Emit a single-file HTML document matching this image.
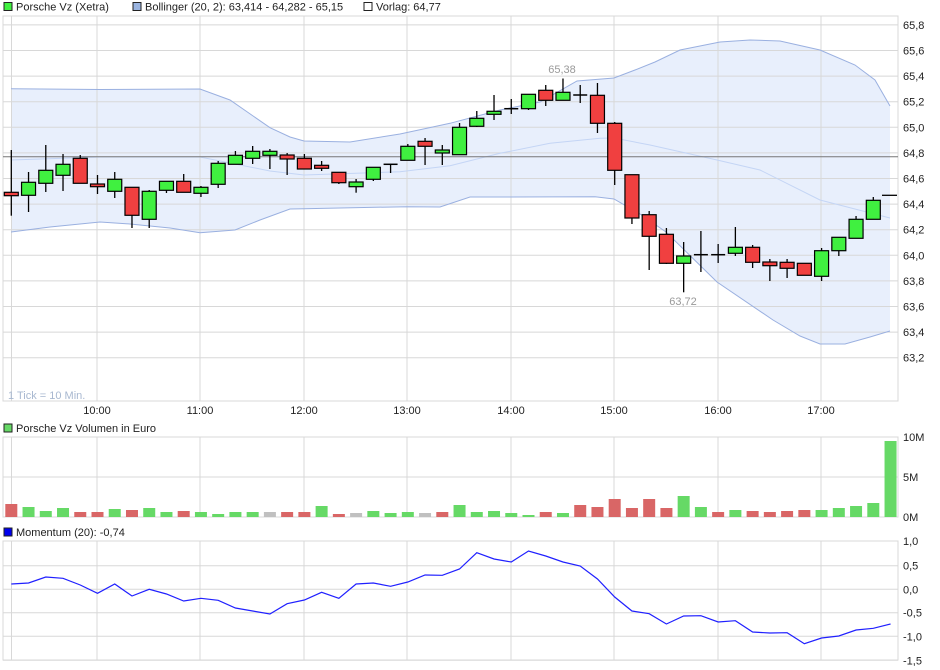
<!DOCTYPE html>
<html><head><meta charset="utf-8"><style>
body{margin:0;background:#fff;width:940px;height:670px;overflow:hidden}
svg{display:block;font-family:"Liberation Sans",sans-serif}
</style></head><body>
<svg id="s" width="940" height="670" xmlns="http://www.w3.org/2000/svg"></svg>
<script>
var s=document.getElementById('s'),h='';
function X(i){return 11.3+17.24*i}
function Y(p){return 127.3+(65-p)*128}
// main panel
h+='<rect x="3" y="16" width="895" height="385" fill="#fff" stroke="#d8d8d8"/>';
// bollinger
var up=[[11,88.7],[100,89.5],[200,89],[230,100],[270,127.7],[290,137],[304,141],[350,142],[400,134],[450,123.3],[500,110],[540,102],[577,81],[614,78],[635,70],[655,62],[680,50],[720,42],[750,40],[780,41],[820,50],[855,65],[875,80],[890,106]];
var md=[[11,160],[100,157],[200,157],[235,164],[270,171],[304,175],[400,171.7],[450,165.7],[500,153.3],[550,143.3],[600,138.3],[614,138],[650,145],[717,160],[760,170],[820,200],[890,218]];
var lo=[[11,232],[50,227],[100,222],[130,224],[170,228],[200,232.7],[235,230],[260,220],[290,209],[304,208.7],[407,206.7],[440,207],[470,197],[510,197],[595,196.7],[614,199],[640,214],[666,232],[717,282],[773,320],[800,336],[820,344],[845,344],[870,337],[890,331]];
function pts(a){return a.map(function(p){return p[0]+','+p[1]}).join(' ')}
h+='<polygon points="'+pts(up)+' '+pts(lo.slice().reverse())+'" fill="#e8effc"/>';
// grid
for(var k=0;k<=13;k++){var p=65.8-0.2*k,y=Y(p);h+='<line x1="3" x2="898" y1="'+y+'" y2="'+y+'" stroke="#d8d8d8"/>';h+='<text x="903" y="'+(y+4)+'" font-size="11" fill="#222">'+p.toFixed(1).replace('.',',')+'</text>';}
var gx=[11.5,97,200,304,407,511,614,718,821],tl=['','10:00','11:00','12:00','13:00','14:00','15:00','16:00','17:00'];
gx.forEach(function(x,i){
 h+='<line x1="'+x+'" x2="'+x+'" y1="16" y2="401" stroke="#d8d8d8"/>';
 h+='<line x1="'+x+'" x2="'+x+'" y1="437" y2="517" stroke="#d8d8d8"/>';
 h+='<line x1="'+x+'" x2="'+x+'" y1="541" y2="660" stroke="#d8d8d8"/>';
 if(tl[i])h+='<text x="'+x+'" y="414" font-size="11" fill="#222" text-anchor="middle">'+tl[i]+'</text>';
});
h+='<polyline points="'+pts(up)+'" fill="none" stroke="#9ab0e0"/>';
h+='<polyline points="'+pts(lo)+'" fill="none" stroke="#9ab0e0"/>';
h+='<polyline points="'+pts(md)+'" fill="none" stroke="#c4d5f5"/>';
h+='<line x1="3" x2="898" y1="156.7" y2="156.7" stroke="#777"/>';
// candles: [open y, close y, high y, low y]
var c=[[192.3,195.7,150,215.7],[195.3,182.3,172,212],[183.3,170.3,145,192],[175.3,164.3,154,191],[158.3,183.3,155,183.3],[184,186.7,175,194],[191.3,179.3,172,198],[187.3,215.3,187,228],[219.3,191.3,190,228],[190.3,181.3,181.3,193],[181.3,192.3,174,192.3],[193.3,187.3,186,197],[184.3,163.3,161,188],[164.3,155.3,151,164.3],[158.3,151.3,146,164],[155.3,151.3,149,169],[155,159,153,175],[158.3,169,154,169],
[165.3,168.3,161,171],[172.3,182.7,172.3,184],[186.7,182,179,192.7],[179.3,167.3,167.3,181],[164.3,164.3,164.3,173],[160.3,146.3,144,160.3],[141.3,146.3,138,165],[153,150,145,165],[154.7,127.3,123,154.7],[126.3,118.3,111,127],[114.3,111.3,95,120],[108.7,108.7,99,114],[108.7,94.3,94.3,110],[90.3,100.3,85,106],[100.3,92.3,78.5,100.3],[95,95,85,103],[95.3,123.3,83,133],
[123.3,170.3,122,185],[174.7,218,174.7,224],[214.7,236.3,211,270],[234.3,263.3,228,264],[263.3,256,242,292.3],[254.7,254.7,231,272],[254.7,254.7,244,263],[253.3,247.3,227,256],[247.3,262.3,245,268],[262,265.7,259,281],[262.3,268.3,259,278],[263.3,275.3,263.3,275.3],[276.3,250.7,248,281],[250.7,237.3,237.3,256],[238.3,219.3,216,238.3],[219.3,200.3,197,219.3]];
c.forEach(function(d,i){var x=X(i);
 h+='<line x1="'+x+'" x2="'+x+'" y1="'+d[2]+'" y2="'+d[3]+'" stroke="#000" stroke-width="1.3"/>';
 if(d[0]==d[1]){h+='<line x1="'+(x-7)+'" x2="'+(x+7)+'" y1="'+d[0]+'" y2="'+d[0]+'" stroke="#000" stroke-width="1.5"/>';return;}
 var t=Math.min(d[0],d[1]),b=Math.max(d[0],d[1]);
 h+='<rect x="'+(x-7)+'" y="'+t+'" width="14" height="'+Math.max(b-t,1.5)+'" fill="'+(d[1]<d[0]?'#40f040':'#f04040')+'" stroke="#000" stroke-width="1.2"/>';
});
h+='<line x1="882" x2="897" y1="195.3" y2="195.3" stroke="#000" stroke-width="1.3"/>';
h+='<text x="562" y="73" font-size="11" fill="#999" text-anchor="middle">65,38</text>';
h+='<text x="683" y="305" font-size="11" fill="#999" text-anchor="middle">63,72</text>';
h+='<text x="8" y="399" font-size="11" fill="#a8b8d0">1 Tick = 10 Min.</text>';
// legends
function lg(x,y,col,t){h+='<rect x="'+x+'" y="'+(y-8)+'" width="8" height="8" fill="'+col+'" stroke="#222"/><text x="'+(x+12)+'" y="'+y+'" font-size="11" fill="#222">'+t+'</text>';}
lg(4,10.5,'#40f040','Porsche Vz (Xetra)');
lg(133,10.5,'#9ab4e0','Bollinger (20, 2): 63,414 - 64,282 - 65,15');
lg(364,10.5,'#fff','Vorlag: 64,77');
lg(4,432,'#66d966','Porsche Vz Volumen in Euro');
lg(4,536,'#0000ee','Momentum (20): -0,74');
// volume panel
h+='<rect x="3" y="437" width="895" height="80" fill="none" stroke="#d8d8d8"/><line x1="3" x2="898" y1="477" y2="477" stroke="#d8d8d8"/>';
h+='<text x="903" y="441" font-size="11" fill="#222">10M</text><text x="903" y="481" font-size="11" fill="#222">5M</text><text x="903" y="521" font-size="11" fill="#222">0M</text>';
var v=[[504,'r'],[507,'g'],[511,'g'],[508,'g'],[512,'r'],[512,'r'],[509,'g'],[510,'r'],[508,'g'],[512,'g'],[511,'r'],[512,'g'],[514,'g'],[512,'g'],[512,'g'],[512,'n'],[512,'r'],[512,'r'],[506,'g'],[514,'r'],[513,'n'],[511,'g'],[513,'g'],[512,'g'],[513,'n'],[512,'r'],[505,'g'],
[512,'g'],[511,'g'],[513,'g'],[515,'g'],[512,'r'],[513,'g'],[505,'r'],[507,'r'],[499,'r'],[508,'r'],[499,'r'],[508,'r'],[496,'g'],[507,'g'],[512,'r'],[510,'g'],[511,'r'],[512,'r'],[511,'r'],[510,'r'],[510,'g'],[508,'g'],[506,'g'],[503,'g'],[441,'g']];
var vc={r:'#d96666',g:'#66d966',n:'#c0c0c0'};
v.forEach(function(d,i){var x=X(i);h+='<rect x="'+(x-6)+'" y="'+d[0]+'" width="12" height="'+(517-d[0])+'" fill="'+vc[d[1]]+'"/>';});
// momentum panel
h+='<rect x="3" y="541" width="895" height="119" fill="none" stroke="#d8d8d8"/>';
[[541,'1,0'],[565.7,'0,5'],[589.3,'0,0'],[612.7,'-0,5'],[636.3,'-1,0'],[660.3,'-1,5']].forEach(function(a){h+='<line x1="3" x2="898" y1="'+a[0]+'" y2="'+a[0]+'" stroke="#d8d8d8"/><text x="903" y="'+(a[0]+4)+'" font-size="11" fill="#222">'+a[1]+'</text>';});
var m=[584,583,577,578.3,585,593.3,584,596,589.3,594,601,598.3,600.3,608,611,614,603.7,600,592.3,598.3,584,583,586.3,582,575,575.3,569,552.7,559,562,551,556,562,566,579,597,611,613.7,624,616,615.7,622,620.7,632,633,632.7,643.7,638,636,630,628.3,624];
h+='<polyline points="'+m.map(function(y,i){return X(i)+','+y}).join(' ')+'" fill="none" stroke="#2020ff" stroke-width="1.2"/>';
s.innerHTML=h;
</script>
</body></html>
